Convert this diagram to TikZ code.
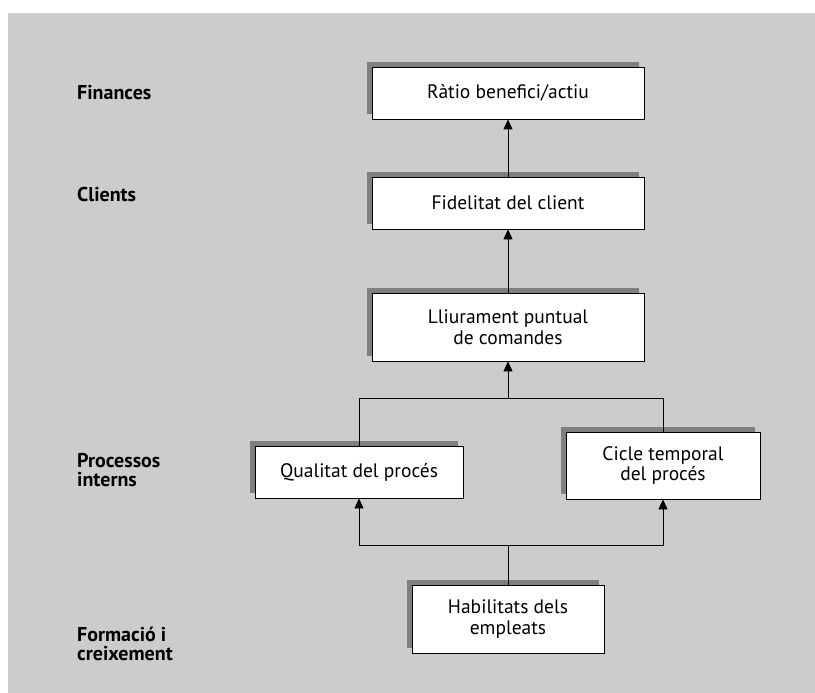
\documentclass[tikz,border=0pt]{standalone}
\usepackage{fontspec}
\setmainfont{PT Sans}
\usetikzlibrary{arrows.meta,shadows}
\definecolor{panelgray}{HTML}{CCCCCC}
\definecolor{shadowgray}{HTML}{7F7F7F}
\begin{document}
\begin{tikzpicture}[x=1pt,y=-1pt,
  every node/.style={font=\fontsize{19.5}{20.5}\selectfont},
  goal/.style={draw=black, line width=0.8pt, fill=white, align=center,
    inner sep=0pt, rectangle,
    drop shadow={shadow xshift=-5pt, shadow yshift=5pt, fill=shadowgray, opacity=1}},
  level/.style={anchor=west, align=left, inner sep=0pt,
    font=\fontsize{20}{19.5}\selectfont\bfseries},
  link/.style={draw=black, line width=0.8pt},
  up/.style={link, -{Triangle[width=9pt,length=10pt]}}]

% canvas and panel
\useasboundingbox (0,0) rectangle (815,693);
\fill[white] (0,0) rectangle (815,693);
\fill[panelgray] (8,13) rectangle (815,693);

% perspective labels
\node[level] (lfin) at (77,93)  {Finances};
\node[level] (lcli) at (77,194) {Clients};
\node[level] (lpro) at (77,470) {Processos\\interns};
\node[level] (lfor) at (77,644) {Formació i\\creixement};

% objectives
\node[goal, minimum width=272pt, minimum height=52pt] (rat)  at (508,93)    {Ràtio benefici/actiu};
\node[goal, minimum width=272pt, minimum height=52pt] (fid)  at (508,203)   {Fidelitat del client};
\node[goal, minimum width=272pt, minimum height=68pt] (lli)  at (508,327)   {Lliurament puntual\\de comandes};
\node[goal, minimum width=208pt, minimum height=52pt] (qual) at (359,472)   {Qualitat del procés};
\node[goal, minimum width=194pt, minimum height=67pt] (cic)  at (663,465.5) {Cicle temporal\\del procés};
\node[goal, minimum width=192pt, minimum height=68pt] (hab)  at (508,619)   {Habilitats dels\\empleats};

% junction points
\coordinate (j1) at (508,398);
\coordinate (j2) at (508,545);

% cause-effect links
\draw[up] (fid.north) -- (rat.south);
\draw[up] (lli.north) -- (fid.south);
\draw[up] (j1) -- (lli.south);
\draw[link] (qual.north) -- (qual.north |- j1) -- (cic.north |- j1) -- (cic.north);
\draw[link] (hab.north) -- (j2);
\draw[up] (j2) -| (qual.south);
\draw[up] (j2) -| (cic.south);
\end{tikzpicture}
\end{document}
